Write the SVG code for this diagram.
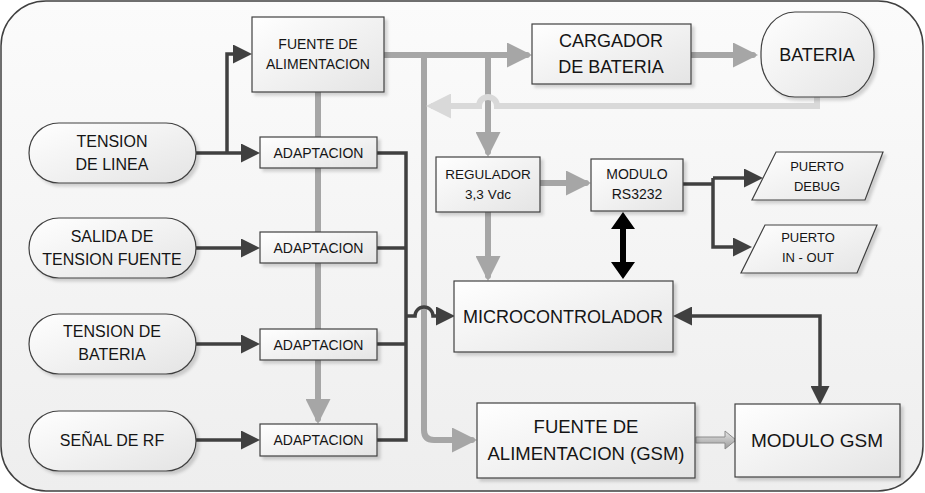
<svg xmlns="http://www.w3.org/2000/svg" width="925" height="493" viewBox="0 0 925 493">
<defs>
<style>
.box{fill:url(#bg);stroke:#404040;stroke-width:1.2;filter:url(#sh)}
.t{font-family:"Liberation Sans",Arial,sans-serif;fill:#151515;text-anchor:middle}
.dk{fill:none;stroke:#404040;stroke-width:3.5}
.gy{fill:none;stroke:#a6a6a6;stroke-width:6}
.lt{fill:none;stroke:#d9d9d9;stroke-width:6}
</style>
<linearGradient id="bg" x1="0" y1="0" x2="1" y2="1">
<stop offset="0" stop-color="#ffffff"/>
<stop offset="1" stop-color="#e4e4e4"/>
</linearGradient>
<linearGradient id="pg" x1="0" y1="0" x2="0" y2="1">
<stop offset="0" stop-color="#fbfbfb"/>
<stop offset="1" stop-color="#eeeeee"/>
</linearGradient>
<linearGradient id="ag2" x1="0" y1="0" x2="0" y2="1">
<stop offset="0" stop-color="#e6e6e6"/>
<stop offset="1" stop-color="#999999"/>
</linearGradient>
<filter id="sh" x="-10%" y="-10%" width="130%" height="140%">
<feDropShadow dx="3" dy="3" stdDeviation="1.5" flood-color="#000" flood-opacity="0.16"/>
</filter>
<marker id="ad" markerUnits="userSpaceOnUse" markerWidth="19" markerHeight="19" refX="15" refY="9.5" orient="auto-start-reverse">
<path d="M0,0 L19,9.5 L0,19 z" fill="#404040"/>
</marker>
<marker id="ag" markerUnits="userSpaceOnUse" markerWidth="25" markerHeight="25" refX="20" refY="12.5" orient="auto">
<path d="M0,0 L25,12.5 L0,25 z" fill="#a6a6a6"/>
</marker>
<marker id="al" markerUnits="userSpaceOnUse" markerWidth="25" markerHeight="25" refX="20" refY="12.5" orient="auto">
<path d="M0,0 L25,12.5 L0,25 z" fill="#d9d9d9"/>
</marker>
</defs>

<rect id="frame" x="1" y="1" width="922" height="490" rx="45" ry="45" fill="url(#pg)" stroke="#404040" stroke-width="1.5"/>

<g id="connectors">
<g class="gy" stroke-linecap="round">
<path d="M318,92 V419" marker-end="url(#ag)"/>
<path d="M384,55 H527" marker-end="url(#ag)"/>
<path d="M424,55 V430 Q424,440 434,440 H472" marker-end="url(#ag)"/>
<path d="M488,55 V152" marker-end="url(#ag)"/>
<path d="M540,183 H586" marker-end="url(#ag)"/>
<path d="M488,212 V276" marker-end="url(#ag)"/>
<path d="M691,55 H753" marker-end="url(#ag)"/>
</g>
<path class="lt" d="M817,97 V106 H497 A9,9 0 0 0 479,106 H431" marker-end="url(#al)"/>
<g class="dk">
<path d="M196,153 H256" marker-end="url(#ad)"/>
<path d="M227,153 V54 H248" marker-end="url(#ad)"/>
<path d="M196,248 H256" marker-end="url(#ad)"/>
<path d="M196,344 H256" marker-end="url(#ad)"/>
<path d="M196,440 H256" marker-end="url(#ad)"/>
<path d="M377,153 H406 V440 H377 M377,248 H406 M377,344 H406"/>
<path d="M406,316 H415 A9,9 0 0 1 433,316 H451" marker-end="url(#ad)"/>
<path d="M677,316 H820 V401" marker-start="url(#ad)" marker-end="url(#ad)"/>
<path d="M683,184 H713"/>
<path d="M713,178 V247 H748" marker-end="url(#ad)"/>
<path d="M713,178 H759" marker-end="url(#ad)"/>
</g>
<polygon points="623,212 635,229 626,229 626,262 635,262 623,279 611,262 620,262 620,229 611,229" fill="#000"/>
<polygon points="696,437 725,437 725,431 736,440 725,449 725,443 696,443" fill="url(#ag2)" stroke="#8c8c8c" stroke-width="1"/>
</g>

<g id="fuente">
<rect class="box" x="252" y="17" width="132" height="75"/>
<text class="t" x="318" y="49" font-size="14">FUENTE DE</text>
<text class="t" x="318" y="69" font-size="14">ALIMENTACION</text>
</g>
<g id="adapt1">
<rect class="box" x="260" y="137" width="117" height="31"/>
<text class="t" x="318.5" y="157.5" font-size="14">ADAPTACION</text>
</g>
<g id="adapt2">
<rect class="box" x="260" y="232" width="117" height="31"/>
<text class="t" x="318.5" y="252.5" font-size="14">ADAPTACION</text>
</g>
<g id="adapt3">
<rect class="box" x="260" y="329" width="117" height="31"/>
<text class="t" x="318.5" y="349.5" font-size="14">ADAPTACION</text>
</g>
<g id="adapt4">
<rect class="box" x="260" y="424" width="117" height="32"/>
<text class="t" x="318.5" y="445" font-size="14">ADAPTACION</text>
</g>

<g id="tension-linea">
<rect class="box" x="29" y="123" width="167" height="60" rx="30" ry="30"/>
<text class="t" x="112" y="147" font-size="16">TENSION</text>
<text class="t" x="112" y="170" font-size="16">DE LINEA</text>
</g>
<g id="salida-fuente">
<rect class="box" x="29" y="218" width="167" height="60" rx="30" ry="30"/>
<text class="t" x="112" y="242" font-size="16">SALIDA DE</text>
<text class="t" x="112" y="265" font-size="16">TENSION FUENTE</text>
</g>
<g id="tension-bateria">
<rect class="box" x="29" y="314" width="167" height="60" rx="30" ry="30"/>
<text class="t" x="112" y="337" font-size="16">TENSION DE</text>
<text class="t" x="112" y="360" font-size="16">BATERIA</text>
</g>
<g id="senal-rf">
<rect class="box" x="29" y="411" width="167" height="60" rx="30" ry="30"/>
<text class="t" x="112" y="446" font-size="16">SEÑAL DE RF</text>
</g>

<g id="cargador">
<rect class="box" x="532" y="24" width="159" height="60"/>
<text class="t" x="611" y="47" font-size="18">CARGADOR</text>
<text class="t" x="611" y="73" font-size="18">DE BATERIA</text>
</g>
<g id="bateria">
<rect class="box" x="761" y="12" width="113" height="85" rx="34" ry="40"/>
<text class="t" x="817" y="61" font-size="18">BATERIA</text>
</g>
<g id="regulador">
<rect class="box" x="436" y="157" width="104" height="55"/>
<text class="t" x="488" y="179" font-size="13.5">REGULADOR</text>
<text class="t" x="488" y="199" font-size="13.5">3,3 Vdc</text>
</g>
<g id="modulo-rs">
<rect class="box" x="591" y="159" width="92" height="52"/>
<text class="t" x="637" y="179" font-size="14">MODULO</text>
<text class="t" x="637" y="199" font-size="14">RS3232</text>
</g>
<g id="puerto-debug">
<polygon class="box" points="776,152 883,152 865,200 752,200"/>
<text class="t" x="817" y="171" font-size="13">PUERTO</text>
<text class="t" x="817" y="191" font-size="13">DEBUG</text>
</g>
<g id="puerto-io">
<polygon class="box" points="765,225 877,225 857,273 741,273"/>
<text class="t" x="808" y="242" font-size="13">PUERTO</text>
<text class="t" x="808" y="262" font-size="13">IN - OUT</text>
</g>
<g id="micro">
<rect class="box" x="454" y="281" width="219" height="71"/>
<text class="t" x="563" y="323" font-size="18">MICROCONTROLADOR</text>
</g>
<g id="fuente-gsm">
<rect class="box" x="477" y="403" width="218" height="75"/>
<text class="t" x="586" y="433" font-size="18.5">FUENTE DE</text>
<text class="t" x="586" y="460" font-size="18.5">ALIMENTACION (GSM)</text>
</g>
<g id="modulo-gsm">
<rect class="box" x="735" y="404" width="165" height="73"/>
<text class="t" x="817" y="447" font-size="19">MODULO GSM</text>
</g>
</svg>
